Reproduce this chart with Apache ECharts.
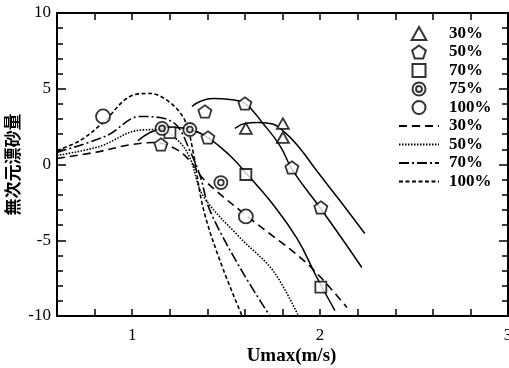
<!DOCTYPE html>
<html><head><meta charset="utf-8">
<script src="https://cdn.jsdelivr.net/npm/echarts@6/dist/echarts.min.js"></script>
<style>html,body{margin:0;padding:0;background:#fff}#c{width:509px;height:368px}</style>
</head><body><div id="c"></div>
<script>
// Measured points [Umax, value]
const pts30 = [[1.605,2.38],[1.802,2.70],[1.802,1.78]];
const pts50 = [[1.153,1.32],[1.387,3.50],[1.403,1.78],[1.600,4.03],[1.850,-0.20],[2.004,-2.84]];
const pts70 = [[1.201,2.11],[1.605,-0.66],[2.004,-8.10]];
const pts75 = [[1.159,2.38],[1.307,2.31],[1.472,-1.19]];
const pts100 = [[0.845,3.17],[1.605,-3.43]];
// Calculated curves
const calc30 = [[0.6,0.40],[0.802,0.80],[0.988,1.30],[1.121,1.45],[1.228,1.05],[1.307,0.26],[1.387,-1.06],[1.627,-3.56],[1.930,-6.53],[2.143,-9.44]];
const calc50 = [[0.6,0.60],[0.829,1.20],[1.026,2.24],[1.148,2.31],[1.244,1.58],[1.307,0.46],[1.377,-2.05],[1.573,-4.82],[1.749,-7.00],[1.885,-10]];
const calc70 = [[0.6,0.80],[0.866,1.91],[1.041,3.17],[1.148,3.10],[1.238,2.57],[1.307,0.92],[1.361,-0.73],[1.414,-3.04],[1.573,-6.80],[1.733,-10]];
const calc100 = [[0.6,0.92],[0.722,1.58],[0.845,2.77],[0.988,4.49],[1.095,4.69],[1.201,4.09],[1.281,2.90],[1.323,0.92],[1.377,-2.84],[1.467,-6.34],[1.584,-9.97]];
// Fitted solid curves
const fitA = [[1.031,1.58],[1.095,2.11],[1.159,2.38],[1.228,2.44],[1.307,2.31],[1.403,1.78],[1.520,0.59],[1.627,-0.86],[1.733,-2.38],[1.877,-4.88],[1.983,-7.46],[2.079,-9.64]];
const fitB = [[1.318,3.83],[1.361,4.16],[1.430,4.36],[1.520,4.29],[1.600,4.03],[1.696,2.71],[1.786,1.25],[1.855,-0.40],[1.999,-2.84],[2.105,-4.69],[2.222,-6.80]];
const fitC = [[1.547,2.38],[1.600,2.71],[1.664,2.77],[1.733,2.71],[1.802,2.24],[1.893,1.06],[1.975,-0.30],[2.105,-2.38],[2.238,-4.55]];
const xTickLabels = ['1','2','3'];
const yTickLabels = ['-10','-5','0','5','10'];
const legendNames = ['30%','50%','70%','75%','100%','30% ','50% ','70% ','100% '];

const serif = '"Liberation Serif","Times New Roman",serif';
const TRI = 'path://M0,-10L9,6L-9,6Z';
const SQR = 'path://M-8,-8L8,-8L8,8L-8,8Z';
const PENT = 'path://M0,-10L9.51,-3.09L5.88,8.09L-5.88,8.09L-9.51,-3.09Z';
const DCIRC = 'path://M0,-10A10,10 0 1,1 0,10A10,10 0 1,1 0,-10ZM0,-4.5A4.5,4.5 0 1,1 0,4.5A4.5,4.5 0 1,1 0,-4.5Z';
const mk = {color:'#fff', borderColor:'#000', borderWidth:1.8};

function scatter(name, data, symbol, size){
  return {name, type:'scatter', data, symbol, symbolSize:size, symbolKeepAspect:true, itemStyle:mk, z:5};
}
function line(name, data, type){
  return {name, type:'line', data, showSymbol:false, symbol:'none', smooth:0.35,
    lineStyle:{color:'#000', width:1.6, type}, itemStyle:{color:'#000'}};
}
function fit(data){
  return {type:'line', data, showSymbol:false, symbol:'none', smooth:0.45,
    lineStyle:{color:'#000', width:1.5}};
}
const chart = echarts.init(document.getElementById('c'));
const axisCommon = {
  axisLine:{onZero:false, lineStyle:{color:'#000', width:2}},
  splitLine:{show:false},
};
const legendData = legendNames.map((n,i)=> i<5 ? {name:n} : {name:n, itemStyle:{opacity:0}});
chart.setOption({
  animation:false,
  backgroundColor:'#fff',
  grid:{left:57, right:1, top:13, bottom:52, containLabel:false, outerBoundsMode:'none'},
  legend:{
    orient:'vertical', left:393, top:20, itemWidth:40, itemHeight:13, itemGap:1.5,
    data:legendData, formatter:n=>n.trim(),
    textStyle:{fontFamily:serif, fontWeight:'bold', fontSize:17, color:'#000', padding:[0,0,0,5]}
  },
  xAxis:[{
    type:'value', min:0.6, max:3, interval:0.2, ...axisCommon,
    axisTick:{inside:true, length:7, lineStyle:{width:1.5}},
    axisLabel:{margin:11, fontFamily:serif, fontSize:17, color:'#000',
      formatter:v=>{const r=Math.round(v); return Math.abs(v-r)<1e-6 ? xTickLabels[r-1] : '';}},
    name:'Umax(m/s)', nameLocation:'middle', nameGap:31, nameMoveOverlap:false,
    nameTextStyle:{fontFamily:serif, fontWeight:'bold', fontSize:19, color:'#000', padding:[0,0,0,18]}
  },{
    type:'value', position:'top', min:0.6, max:3, interval:0.2, ...axisCommon,
    axisTick:{inside:true, length:7, lineStyle:{width:1.5}}, axisLabel:{show:false}
  }],
  yAxis:[{
    type:'value', min:-10, max:10, interval:5, ...axisCommon,
    axisTick:{inside:true, length:9, lineStyle:{width:1.5}},
    minorTick:{show:true, splitNumber:5, length:6, lineStyle:{color:'#000', width:1.5}},
    axisLabel:{margin:6, fontFamily:serif, fontSize:17, color:'#000',
      formatter:v=>yTickLabels[Math.round((v+10)/5)]},
    name:'無次元漂砂量', nameLocation:'middle', nameGap:36, nameRotate:90, nameMoveOverlap:false,
    nameTextStyle:{fontFamily:'"Noto Sans CJK JP"', fontWeight:'bold', fontSize:17, color:'#000'}
  },{
    type:'value', position:'right', min:-10, max:10, interval:5, ...axisCommon,
    axisTick:{inside:true, length:9, lineStyle:{width:1.5}},
    minorTick:{show:true, splitNumber:5, length:6, lineStyle:{color:'#000', width:1.5}},
    axisLabel:{show:false}
  }],
  series:[
    fit(fitA), fit(fitB), fit(fitC),
    scatter('30%', pts30, TRI, 12),
    scatter('50%', pts50, PENT, 13),
    scatter('70%', pts70, SQR, 11),
    scatter('75%', pts75, DCIRC, 13),
    scatter('100%', pts100, 'circle', 14),
    line('30% ', calc30, [8,5]),
    line('50% ', calc50, [1.5,1.5]),
    line('70% ', calc70, [10,3,2,3]),
    line('100% ', calc100, [4,2.5])
  ]
});
</script></body></html>
